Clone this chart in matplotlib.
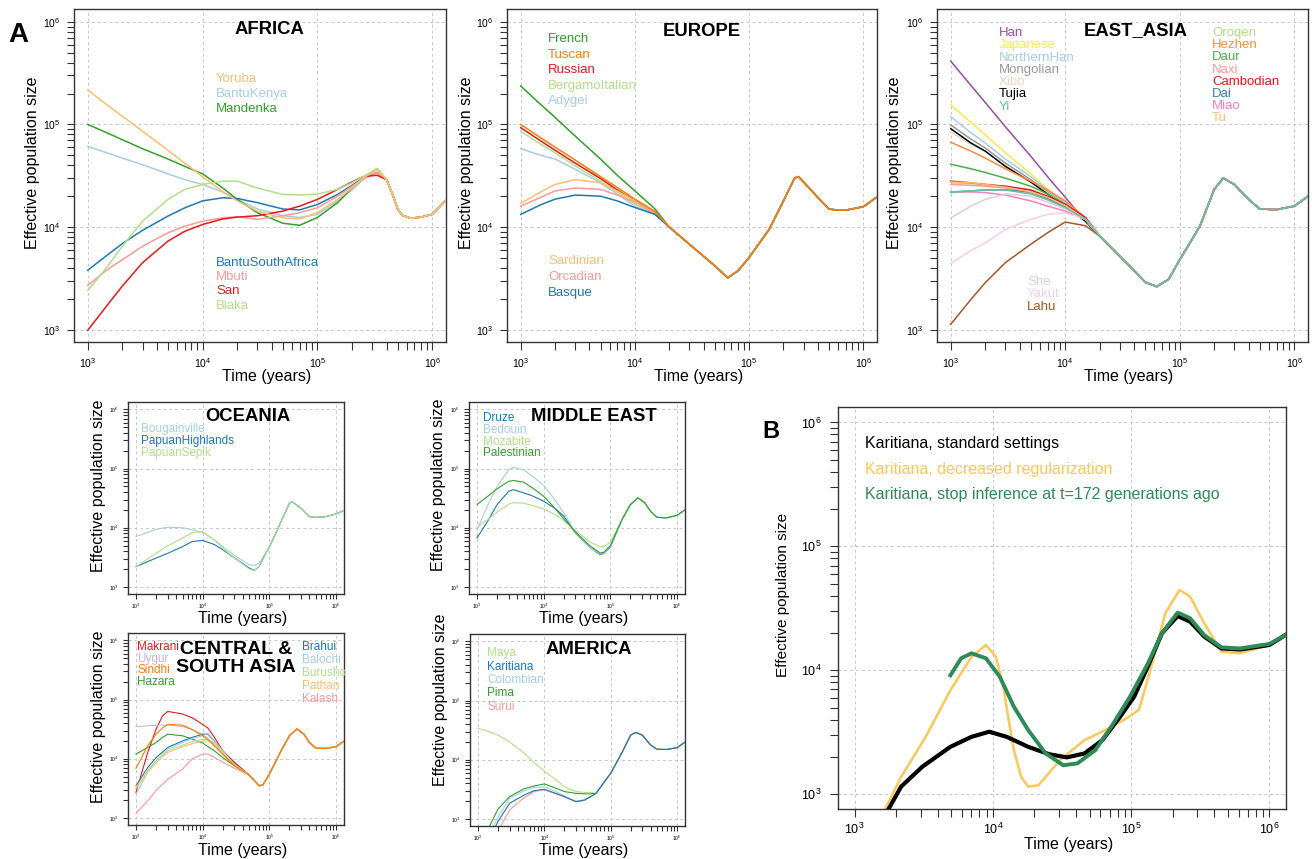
import matplotlib
matplotlib.use("Agg")
import matplotlib.pyplot as plt
from matplotlib.ticker import FixedLocator, NullFormatter

W, H = 1312, 859
plt.rcParams['font.family'] = ['Liberation Sans', 'DejaVu Sans']
plt.rcParams['mathtext.fontset'] = 'custom'
plt.rcParams['mathtext.rm'] = 'Liberation Sans'
plt.rcParams['mathtext.it'] = 'Liberation Sans:italic'
plt.rcParams['mathtext.bf'] = 'Liberation Sans:bold'

# ---------------- data (time in years, Ne) ----------------
# AFRICA
af_t = [1e3, 1.5e3, 2e3, 3e3, 5e3, 7e3, 1e4, 1.5e4, 2e4, 3e4, 5e4, 7e4, 1e5, 1.5e5, 2e5, 2.5e5, 3.3e5]
af_tail_t = [4e5, 4.5e5, 5e5, 5.5e5, 6.5e5, 8e5, 1e6, 1.3e6]
af_tail_ne = [2.9e4, 2.1e4, 1.5e4, 1.3e4, 1.22e4, 1.25e4, 1.33e4, 1.8e4]
af_pops = ['Yoruba', 'BantuKenya', 'Mandenka', 'BantuSouthAfrica', 'Mbuti', 'San', 'Biaka']
af_ne = [
    [2.16e5, 1.53e5, 1.2e5, 8.6e4, 5.6e4, 4.2e4, 3.1e4, 2.2e4, 1.8e4, 1.43e4, 1.23e4, 1.2e4, 1.38e4, 1.86e4, 2.4e4, 3.0e4, 3.6e4],
    [6.1e4, 5.25e4, 4.7e4, 4.05e4, 3.3e4, 2.9e4, 2.6e4, 2.2e4, 1.86e4, 1.5e4, 1.29e4, 1.24e4, 1.33e4, 1.8e4, 2.3e4, 2.9e4, 3.4e4],
    [1.0e5, 8.2e4, 7.1e4, 5.8e4, 4.6e4, 3.9e4, 3.3e4, 2.4e4, 1.86e4, 1.38e4, 1.09e4, 1.04e4, 1.24e4, 1.73e4, 2.4e4, 3.0e4, 3.7e4],
    [3.8e3, 5.4e3, 6.9e3, 9.3e3, 1.28e4, 1.54e4, 1.8e4, 1.93e4, 1.9e4, 1.73e4, 1.5e4, 1.47e4, 1.66e4, 2.08e4, 2.55e4, 3.0e4, 3.4e4],
    [2.7e3, 3.9e3, 4.8e3, 6.5e3, 8.8e3, 1.02e4, 1.14e4, 1.23e4, 1.26e4, 1.19e4, 1.29e4, 1.38e4, 1.54e4, 2.0e4, 2.5e4, 2.95e4, 3.4e4],
    [987, 1.77e3, 2.66e3, 4.5e3, 7.3e3, 9.1e3, 1.06e4, 1.2e4, 1.25e4, 1.29e4, 1.43e4, 1.6e4, 1.86e4, 2.33e4, 2.75e4, 3.1e4, 3.2e4],
    [2.4e3, 4.2e3, 6.5e3, 1.14e4, 1.86e4, 2.33e4, 2.6e4, 2.8e4, 2.8e4, 2.4e4, 2.08e4, 2.05e4, 2.1e4, 2.33e4, 2.7e4, 3.1e4, 3.7e4],
]
af_colors = ['#fdbf6f', '#a6cee3', '#33a02c', '#1f78b4', '#fb9a99', '#e31a1c', '#b2df8a']

# EUROPE
eu_t = [1e3, 1.5e3, 2e3, 3e3, 5e3, 7e3, 1e4, 1.5e4]
eu_tail_t = [2e4, 3e4, 5e4, 6.5e4, 8e4, 1e5, 1.5e5, 2e5, 2.5e5, 2.7e5, 3e5, 4e5, 5e5, 6e5, 7e5, 1e6, 1.3e6]
eu_tail_ne = [1.0e4, 6.8e3, 4.2e3, 3.2e3, 3.75e3, 5.05e3, 9.5e3, 1.8e4, 3.0e4, 3.1e4, 2.75e4, 1.94e4, 1.5e4, 1.46e4, 1.46e4, 1.58e4, 1.94e4]
eu_pops = ['French', 'Tuscan', 'Russian', 'BergamoItalian', 'Adygei', 'Sardinian', 'Orcadian', 'Basque']
eu_ne = [
    [2.37e5, 1.56e5, 1.17e5, 7.7e4, 4.6e4, 3.2e4, 2.25e4, 1.5e4],
    [1.0e5, 7.4e4, 6.0e4, 4.5e4, 3.1e4, 2.43e4, 1.87e4, 1.42e4],
    [9.3e4, 6.9e4, 5.6e4, 4.2e4, 2.97e4, 2.3e4, 1.8e4, 1.4e4],
    [8.6e4, 6.4e4, 5.3e4, 3.95e4, 2.8e4, 2.2e4, 1.67e4, 1.35e4],
    [5.8e4, 5.0e4, 4.6e4, 3.66e4, 2.7e4, 2.1e4, 1.6e4, 1.33e4],
    [1.7e4, 2.2e4, 2.6e4, 2.9e4, 2.7e4, 2.25e4, 1.8e4, 1.38e4],
    [1.6e4, 1.95e4, 2.25e4, 2.4e4, 2.33e4, 2.05e4, 1.75e4, 1.35e4],
    [1.33e4, 1.65e4, 1.87e4, 2.05e4, 2.0e4, 1.8e4, 1.55e4, 1.33e4],
]
eu_colors = ['#33a02c', '#ff7f00', '#e31a1c', '#b2df8a', '#a6cee3', '#fdbf6f', '#fb9a99', '#1f78b4']

# EAST ASIA
ea_t = [1e3, 1.5e3, 2e3, 3e3, 5e3, 7e3, 1e4, 1.5e4]
ea_tail_t = [2e4, 3e4, 5e4, 6.3e4, 8e4, 1e5, 1.5e5, 2e5, 2.4e5, 3e5, 4e5, 5e5, 7e5, 1e6, 1.3e6]
ea_tail_ne = [8.2e3, 5.2e3, 2.9e3, 2.63e3, 3.1e3, 4.8e3, 1.02e4, 2.33e4, 3.0e4, 2.6e4, 1.86e4, 1.5e4, 1.48e4, 1.6e4, 1.97e4]
ea_pops = ['Han', 'Japanese', 'NorthernHan', 'Mongolian', 'Xibo', 'Tujia', 'Yi',
           'Oroqen', 'Hezhen', 'Daur', 'Naxi', 'Cambodian', 'Dai', 'Miao', 'Tu',
           'She', 'Yakut', 'Lahu']
ea_ne = [
    [4.14e5, 2.4e5, 1.64e5, 9.5e4, 4.9e4, 3.1e4, 1.95e4, 1.14e4],
    [1.55e5, 1.05e5, 7.9e4, 5.3e4, 3.3e4, 2.36e4, 1.68e4, 1.14e4],
    [1.19e5, 8.3e4, 6.6e4, 4.6e4, 3.1e4, 2.3e4, 1.73e4, 1.19e4],
    [9.9e4, 7.2e4, 5.9e4, 4.2e4, 2.9e4, 2.2e4, 1.67e4, 1.19e4],
    [8.5e4, 6.4e4, 5.5e4, 4.0e4, 2.8e4, 2.15e4, 1.65e4, 1.19e4],
    [9.1e4, 6.6e4, 5.5e4, 3.9e4, 2.75e4, 2.1e4, 1.58e4, 1.14e4],
    [2.17e4, 2.25e4, 2.3e4, 2.3e4, 2.1e4, 1.85e4, 1.55e4, 1.19e4],
    [2.7e4, 2.65e4, 2.6e4, 2.5e4, 2.25e4, 1.95e4, 1.6e4, 1.19e4],
    [6.7e4, 5.5e4, 4.7e4, 3.7e4, 2.8e4, 2.3e4, 1.8e4, 1.24e4],
    [4.1e4, 3.7e4, 3.4e4, 3.0e4, 2.5e4, 2.1e4, 1.67e4, 1.19e4],
    [2.6e4, 2.55e4, 2.5e4, 2.4e4, 2.15e4, 1.85e4, 1.55e4, 1.19e4],
    [2.8e4, 2.7e4, 2.6e4, 2.5e4, 2.3e4, 2.0e4, 1.67e4, 1.24e4],
    [2.2e4, 2.25e4, 2.3e4, 2.3e4, 2.2e4, 1.9e4, 1.6e4, 1.19e4],
    [2.2e4, 2.2e4, 2.17e4, 2.05e4, 1.8e4, 1.6e4, 1.43e4, 1.19e4],
    [2.75e4, 2.7e4, 2.6e4, 2.45e4, 2.2e4, 1.95e4, 1.62e4, 1.19e4],
    [1.23e4, 1.6e4, 1.86e4, 2.1e4, 2.0e4, 1.75e4, 1.5e4, 1.19e4],
    [4.4e3, 5.9e3, 7.0e3, 9.5e3, 1.19e4, 1.33e4, 1.38e4, 1.19e4],
    [1.13e3, 1.97e3, 2.87e3, 4.5e3, 6.8e3, 8.8e3, 1.12e4, 1.03e4],
]
ea_colors = ['#984ea3', '#ffe84d', '#a6cee3', '#999999', '#e5d8bd', '#000000', '#66c2a5',
             '#b2df8a', '#fd8d3c', '#4daf4a', '#fb9a99', '#e41a1c', '#377eb8', '#f781bf', '#fdbf6f',
             '#decbe4', '#fccde5', '#a65628']

# OCEANIA
oc_t = [1e3, 2e3, 3e3, 5e3, 7e3, 1e4, 1.5e4, 2e4, 3e4, 5e4, 6e4, 7e4]
oc_tail_t = [1e5, 1.5e5, 2e5, 2.2e5, 3e5, 4e5, 5e5, 7e5, 1e6, 1.3e6]
oc_tail_ne = [4.7e3, 1.27e4, 2.6e4, 2.75e4, 2.13e4, 1.54e4, 1.5e4, 1.54e4, 1.71e4, 1.95e4]
oc_pops = ['Bougainville', 'PapuanHighlands', 'PapuanSepik']
oc_ne = [
    [7.1e3, 9.4e3, 1.02e4, 1.0e4, 9.2e3, 8.3e3, 6.25e3, 4.8e3, 3.4e3, 2.37e3, 2.3e3, 2.5e3],
    [2.2e3, 3.07e3, 3.7e3, 4.8e3, 5.86e3, 6.1e3, 5.2e3, 4.25e3, 3.1e3, 2.08e3, 1.9e3, 2.2e3],
    [2.2e3, 3.7e3, 4.95e3, 6.7e3, 8.3e3, 8.6e3, 6.2e3, 4.5e3, 3.1e3, 2.0e3, 1.9e3, 2.2e3],
]
oc_colors = ['#a6cee3', '#1f78b4', '#b2df8a']

# MIDDLE EAST
me_t = [1e3, 1.5e3, 2e3, 3e3, 3.5e3, 5e3, 7e3, 1e4, 1.5e4, 2e4, 3e4, 5e4, 7e4, 8e4, 1e5]
me_tail_t = [1.5e5, 2e5, 2.6e5, 3.3e5, 4e5, 5e5, 7e5, 1e6, 1.3e6]
me_tail_ne = [1.38e4, 2.46e4, 3.2e4, 2.63e4, 1.9e4, 1.5e4, 1.47e4, 1.62e4, 1.98e4]
me_pops = ['Druze', 'Bedouin', 'Mozabite', 'Palestinian']
me_ne = [
    [6.7e3, 1.38e4, 2.46e4, 4.15e4, 4.4e4, 3.9e4, 3.4e4, 2.8e4, 2.1e4, 1.57e4, 8.2e3, 4.6e3, 3.5e3, 3.7e3, 4.7e3],
    [9.3e3, 2.6e4, 5.0e4, 9.6e4, 1.04e5, 9.6e4, 7.2e4, 5.2e4, 2.9e4, 1.78e4, 8.5e3, 4.6e3, 3.6e3, 3.8e3, 4.8e3],
    [1.02e4, 1.41e4, 1.83e4, 2.5e4, 2.65e4, 2.6e4, 2.35e4, 2.08e4, 1.65e4, 1.32e4, 9.0e3, 5.7e3, 4.8e3, 4.8e3, 5.7e3],
    [2.46e4, 3.5e4, 4.55e4, 6.1e4, 6.3e4, 5.9e4, 4.6e4, 3.4e4, 2.1e4, 1.41e4, 8.5e3, 4.9e3, 3.75e3, 3.85e3, 5.0e3],
]
me_colors = ['#1f78b4', '#a6cee3', '#b2df8a', '#33a02c']

# CENTRAL & SOUTH ASIA
cs_t = [1e3, 1.5e3, 2e3, 2.5e3, 3e3, 5e3, 7e3, 1e4, 1.2e4, 1.5e4, 2e4, 3e4]
cs_tail_t = [5e4, 7e4, 8e4, 1e5, 1.5e5, 2e5, 2.6e5, 3.3e5, 4e5, 5e5, 7e5, 1e6, 1.3e6]
cs_tail_ne = [5.3e3, 3.5e3, 3.6e3, 5.5e3, 1.36e4, 2.44e4, 3.2e4, 2.6e4, 1.88e4, 1.5e4, 1.49e4, 1.6e4, 1.96e4]
cs_pops = ['Makrani', 'Uygur', 'Sindhi', 'Hazara', 'Brahui', 'Balochi', 'Burusho', 'Pathan', 'Kalash']
cs_ne = [
    [2.7e3, 1.28e4, 3.16e4, 5.3e4, 6.3e4, 5.7e4, 4.9e4, 3.8e4, 3.3e4, 2.3e4, 1.36e4, 8.7e3],
    [3.5e4, 3.6e4, 3.7e4, 3.7e4, 3.7e4, 3.5e4, 3.1e4, 2.6e4, 2.2e4, 1.66e4, 1.2e4, 7.6e3],
    [6.9e3, 1.66e4, 2.6e4, 3.3e4, 3.8e4, 3.7e4, 3.1e4, 2.44e4, 2.1e4, 1.66e4, 1.2e4, 7.6e3],
    [1.2e4, 1.55e4, 1.88e4, 2.3e4, 2.6e4, 2.44e4, 2.15e4, 1.84e4, 1.6e4, 1.36e4, 1.05e4, 7.6e3],
    [3.5e3, 7.1e3, 1.05e4, 1.3e4, 1.55e4, 2.0e4, 2.3e4, 2.6e4, 2.6e4, 2.0e4, 1.36e4, 8.1e3],
    [2.5e3, 5.9e3, 9.3e3, 1.2e4, 1.46e4, 1.88e4, 2.2e4, 2.44e4, 2.7e4, 2.0e4, 1.36e4, 7.9e3],
    [3.3e3, 6.5e3, 9.3e3, 1.15e4, 1.36e4, 1.7e4, 1.95e4, 2.14e4, 2.1e4, 1.88e4, 1.3e4, 7.9e3],
    [3.1e3, 6.0e3, 8.5e3, 1.08e4, 1.28e4, 1.6e4, 1.8e4, 2.0e4, 2.0e4, 1.8e4, 1.3e4, 7.9e3],
    [1.2e3, 1.95e3, 2.9e3, 3.7e3, 4.5e3, 6.7e3, 1.0e4, 1.2e4, 1.2e4, 1.05e4, 8.7e3, 6.9e3],
]
cs_colors = ['#e31a1c', '#cab2d6', '#ff7f00', '#33a02c', '#1f78b4', '#a6cee3', '#b2df8a', '#fdbf6f', '#fb9a99']

# AMERICA
am_t = [1e3, 1.5e3, 2e3, 3e3, 5e3, 7e3, 1e4, 1.5e4, 2e4, 3e4, 4e4, 5e4]
am_tail_t = [6e4, 1e5, 1.5e5, 2e5, 2.4e5, 3e5, 4e5, 5e5, 7e5, 1e6, 1.3e6]
am_tail_ne = [2.7e3, 5.9e3, 1.36e4, 2.6e4, 2.9e4, 2.6e4, 1.77e4, 1.5e4, 1.49e4, 1.6e4, 1.96e4]
am_pops = ['Maya', 'Karitiana', 'Colombian', 'Pima', 'Surui']
am_ne = [
    [3.4e4, 2.97e4, 2.6e4, 2.0e4, 1.28e4, 9.0e3, 6.4e3, 4.6e3, 3.5e3, 2.9e3, 2.8e3, 2.8e3],
    [200, 470, 900, 1.84e3, 2.54e3, 3.0e3, 3.16e3, 2.7e3, 2.38e3, 1.96e3, 2.08e3, 2.38e3],
    [230, 560, 1.07e3, 2.23e3, 3.0e3, 3.4e3, 3.5e3, 2.9e3, 2.45e3, 2.0e3, 2.1e3, 2.4e3],
    [350, 760, 1.46e3, 2.38e3, 3.25e3, 3.6e3, 3.9e3, 3.3e3, 2.9e3, 2.7e3, 2.65e3, 2.65e3],
    [120, 300, 620, 1.42e3, 2.3e3, 2.9e3, 3.1e3, 2.65e3, 2.35e3, 1.95e3, 2.05e3, 2.35e3],
]
am_colors = ['#b2df8a', '#1f78b4', '#a6cee3', '#33a02c', '#fb9a99']

# B: Karitiana settings
b_labels = ['Karitiana, standard settings', 'Karitiana, decreased regularization',
            'Karitiana, stop inference at t=172 generations ago']
b_std_t = [1.5e3, 1.77e3, 2.17e3, 3.08e3, 4.93e3, 7e3, 9.4e3, 1.26e4, 1.8e4, 2.55e4, 3.43e4, 4.6e4,
           6.2e4, 8.3e4, 1.05e5, 1.32e5, 1.67e5, 2.17e5, 2.67e5, 3.38e5, 4.5e5, 6.1e5, 1e6, 1.3e6]
b_std_ne = [550, 766, 1.15e3, 1.66e3, 2.41e3, 2.9e3, 3.19e3, 2.9e3, 2.41e3, 2.1e3, 1.98e3, 2.13e3,
            2.73e3, 4.2e3, 6.1e3, 1.07e4, 1.99e4, 2.74e4, 2.47e4, 1.87e4, 1.5e4, 1.47e4, 1.6e4, 1.92e4]
b_reg_t = [1.45e3, 1.67e3, 2.17e3, 3.27e3, 4.93e3, 7e3, 8.9e3, 1.05e4, 1.19e4, 1.3e4, 1.42e4, 1.6e4,
           1.8e4, 2.14e4, 3.05e4, 4.6e4, 6.5e4, 9.3e4, 1.14e5, 1.4e5, 1.77e5, 2.24e5, 2.67e5,
           3.38e5, 4.5e5, 6.1e5, 1e6, 1.3e6]
b_reg_ne = [600, 766, 1.38e3, 2.9e3, 6.9e3, 1.28e4, 1.6e4, 1.29e4, 7.4e3, 4.0e3, 2.26e3, 1.38e3,
            1.15e3, 1.18e3, 1.88e3, 2.73e3, 3.29e3, 4.1e3, 4.8e3, 1.07e4, 2.9e4, 4.45e4, 3.93e4,
            2.39e4, 1.41e4, 1.37e4, 1.6e4, 1.92e4]
b_stop_t = [4.93e3, 5.9e3, 7e3, 8.9e3, 1.12e4, 1.42e4, 1.8e4, 2.41e4, 3.23e4, 4.08e4, 5.5e4, 7.3e4,
            9.8e4, 1.32e5, 1.67e5, 2.17e5, 2.67e5, 3.38e5, 4.5e5, 6.1e5, 1e6, 1.3e6]
b_stop_ne = [9.1e3, 1.25e4, 1.37e4, 1.25e4, 8.9e3, 5.07e3, 3.29e3, 2.13e3, 1.71e3, 1.77e3, 2.26e3, 3.6e3,
             6.1e3, 1.13e4, 1.99e4, 2.92e4, 2.63e4, 1.92e4, 1.53e4, 1.5e4, 1.63e4, 1.92e4]
b_colors = ['#000000', '#fdc85a', '#2e8b57']

# ---------------- layout helpers ----------------
fig = plt.figure(figsize=(W / 100, H / 100), dpi=100)


def box(l, t, r, b):
    return [l / W, 1 - b / H, (r - l) / W, (b - t) / H]


def ftext(x, y, s, **kw):
    fig.text(x / W, 1 - y / H, s, **kw)


dec = [1e3, 1e4, 1e5, 1e6]
declab = [r'$10^{3}$', r'$10^{4}$', r'$10^{5}$', r'$10^{6}$']
minor = [m * 10 ** e for e in (3, 4, 5) for m in range(2, 10)]


def setup(ax, tick_fs, tick_len, xpad, ypad):
    ax.set_xscale('log')
    ax.set_yscale('log')
    ax.set_xlim(10 ** 2.88, 10 ** 6.12)
    ax.set_ylim(10 ** 2.88, 10 ** 6.125)
    for axis in (ax.xaxis, ax.yaxis):
        axis.set_major_locator(FixedLocator(dec))
        axis.set_minor_locator(FixedLocator(minor))
        axis.set_minor_formatter(NullFormatter())
    ax.set_xticklabels(declab)
    ax.set_yticklabels(declab)
    ax.tick_params(which='both', direction='out', length=tick_len, width=0.8,
                   color='#333333', labelsize=tick_fs)
    ax.tick_params(axis='x', pad=xpad)
    ax.tick_params(axis='y', pad=ypad)
    ax.grid(True, which='major', color='#c8c8c8', linestyle=(0, (3, 3)), linewidth=0.7)
    ax.set_axisbelow(True)
    for s in ax.spines.values():
        s.set_color('#333333')
        s.set_linewidth(1.0)


def draw(ax, t, rows, tail_t, tail_ne, colors, lw, top):
    for i, (ne, c) in enumerate(zip(rows, colors)):
        ax.plot(list(t) + list(tail_t), list(ne) + list(tail_ne), color=c, lw=lw,
                zorder=3 if i == top else 2)


def labels(x, y0, names, colors, dy, fs):
    for i, (n, c) in enumerate(zip(names, colors)):
        ftext(x, y0 + i * dy, n, color=c, fontsize=fs, ha='left', va='center')


big_fs, small_fs = 9.5, 8.5
title_kw = dict(fontsize=13.3, fontweight='bold', ha='center', va='center')
ylab_kw = dict(fontsize=11.5, rotation=90, ha='center', va='center')
xlab_kw = dict(fontsize=11.5, ha='center', va='center')

# ---------------- AFRICA ----------------
ax = fig.add_axes(box(74, 9, 446, 342))
setup(ax, 7.5, 5.4, 5, 4.5)
draw(ax, af_t, af_ne, af_tail_t, af_tail_ne, af_colors, 1.1, 0)
ftext(269.5, 30, 'AFRICA', **title_kw)
labels(216, 79, af_pops[:3], af_colors[:3], 15, big_fs)
labels(216, 263, af_pops[3:], af_colors[3:], 14.2, big_fs)
ftext(33, 163, 'Effective population size', **ylab_kw)
ftext(267, 376, 'Time (years)', **xlab_kw)

# ---------------- EUROPE ----------------
ax = fig.add_axes(box(507, 9, 877, 342))
setup(ax, 7.5, 5.4, 5, 4.5)
draw(ax, eu_t, eu_ne, eu_tail_t, eu_tail_ne, eu_colors, 1.1, 1)
ftext(702, 31, 'EUROPE', **title_kw)
labels(548, 39, eu_pops[:5], eu_colors[:5], 15.5, big_fs)
labels(548, 261, eu_pops[5:], eu_colors[5:], 16, big_fs)
ftext(466, 163, 'Effective population size', **ylab_kw)
ftext(699, 376, 'Time (years)', **xlab_kw)

# ---------------- EAST ASIA ----------------
ax = fig.add_axes(box(937, 9, 1308, 342))
setup(ax, 7.5, 5.4, 5, 4.5)
draw(ax, ea_t, ea_ne, ea_tail_t, ea_tail_ne, ea_colors, 1.1, 6)
ftext(1136, 31, 'EAST_ASIA', **title_kw)
labels(999, 33, ea_pops[:7], ea_colors[:7], 12.3, big_fs)
labels(1212, 33, ea_pops[7:15], ea_colors[7:15], 12.2, big_fs)
labels(1027, 282, ea_pops[15:], ea_colors[15:], 12.5, big_fs)
ftext(895, 163, 'Effective population size', **ylab_kw)
ftext(1129, 376, 'Time (years)', **xlab_kw)

# ---------------- OCEANIA ----------------
ax = fig.add_axes(box(128, 402, 344, 594))
setup(ax, 3.6, 3.6, 2, 3)
draw(ax, oc_t, oc_ne, oc_tail_t, oc_tail_ne, oc_colors, 0.8, 2)
ftext(247.5, 416, 'OCEANIA', **title_kw)
labels(141, 429, oc_pops, oc_colors, 12, small_fs)
ftext(98, 486, 'Effective population size', **ylab_kw)
ftext(243, 618, 'Time (years)', **xlab_kw)

# ---------------- MIDDLE EAST ----------------
ax = fig.add_axes(box(469, 402, 685, 594))
setup(ax, 3.6, 3.6, 2, 3)
draw(ax, me_t, me_ne, me_tail_t, me_tail_ne, me_colors, 0.8, 3)
ftext(594, 416, 'MIDDLE EAST', **title_kw)
labels(483, 418, me_pops, me_colors, 11.8, small_fs)
ftext(439, 485, 'Effective population size', **ylab_kw)
ftext(584, 618, 'Time (years)', **xlab_kw)

# ---------------- CENTRAL & SOUTH ASIA ----------------
ax = fig.add_axes(box(128, 633, 344, 825))
setup(ax, 3.6, 3.6, 2, 3)
draw(ax, cs_t, cs_ne, cs_tail_t, cs_tail_ne, cs_colors, 0.8, 2)
ftext(236, 649, 'CENTRAL &', fontsize=14, fontweight='bold', ha='center', va='center')
ftext(236, 667, 'SOUTH ASIA', fontsize=14, fontweight='bold', ha='center', va='center')
labels(137, 647, cs_pops[:4], cs_colors[:4], 11.7, small_fs)
labels(302, 647, cs_pops[4:], cs_colors[4:], 13, small_fs)
ftext(98, 717, 'Effective population size', **ylab_kw)
ftext(243, 850, 'Time (years)', **xlab_kw)

# ---------------- AMERICA ----------------
ax = fig.add_axes(box(470, 634, 685, 826))
setup(ax, 3.6, 3.6, 2, 3)
draw(ax, am_t, am_ne, am_tail_t, am_tail_ne, am_colors, 0.8, 1)
ftext(589, 650, 'AMERICA', **title_kw)
labels(487, 653, am_pops, am_colors, 13.5, small_fs)
ftext(440, 700, 'Effective population size', **ylab_kw)
ftext(584, 850, 'Time (years)', **xlab_kw)

# ---------------- B ----------------
ax = fig.add_axes(box(838, 407, 1286, 809))
setup(ax, 9, 5.6, 3.6, 6)
ax.plot(b_reg_t, b_reg_ne, color=b_colors[1], lw=1.8, zorder=2)
ax.plot(b_std_t, b_std_ne, color=b_colors[0], lw=3.0, zorder=3)
ax.plot(b_stop_t, b_stop_ne, color=b_colors[2], lw=2.8, zorder=4)
for i, (lab, c) in enumerate(zip(b_labels, b_colors)):
    ftext(865, 443 + i * 26, lab, color=c, fontsize=11.5, ha='left', va='center')
ftext(783, 595, 'Effective population size', fontsize=11, rotation=90, ha='center', va='center')
ftext(1069, 845, 'Time (years)', fontsize=11.5, ha='center', va='center')

# panel letters
ftext(18, 35, 'A', fontsize=20, fontweight='bold', ha='center', va='center',
      family=['Liberation Sans Narrow', 'Liberation Sans'])
ftext(771, 431, 'B', fontsize=17, fontweight='bold', ha='center', va='center',
      family=['Liberation Sans Narrow', 'Liberation Sans'])

fig.savefig('out.png', dpi=100)
